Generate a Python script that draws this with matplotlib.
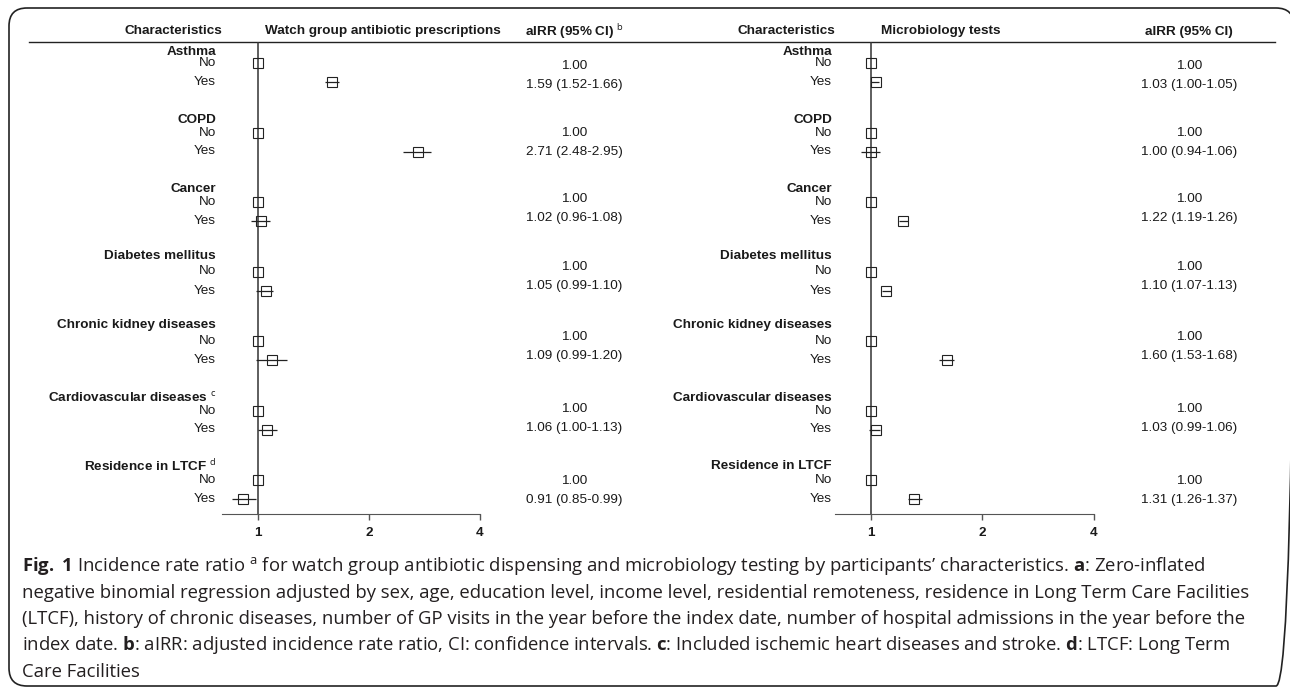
import matplotlib
matplotlib.use("Agg")
import matplotlib.pyplot as plt
from matplotlib.patches import FancyBboxPatch

plt.rcParams["font.family"] = ["Liberation Sans", "DejaVu Sans"]
plt.rcParams["mathtext.fontset"] = "custom"
plt.rcParams["mathtext.rm"] = "Open Sans"
plt.rcParams["mathtext.bf"] = "Open Sans:bold"

# data
groups = ["Asthma", "COPD", "Cancer", "Diabetes mellitus", "Chronic kidney diseases",
          "Cardiovascular diseases", "Residence in LTCF"]
left_notes = ["", "", "", "", "", "c", "d"]
levels = ["No", "Yes"]

watch_est = [1.59, 2.71, 1.02, 1.05, 1.09, 1.06, 0.91]
watch_lo = [1.52, 2.48, 0.96, 0.99, 0.99, 1.00, 0.85]
watch_hi = [1.66, 2.95, 1.08, 1.10, 1.20, 1.13, 0.99]

micro_est = [1.03, 1.00, 1.22, 1.10, 1.60, 1.03, 1.31]
micro_lo = [1.00, 0.94, 1.19, 1.07, 1.53, 0.99, 1.26]
micro_hi = [1.05, 1.06, 1.26, 1.13, 1.68, 1.06, 1.37]

ticks = [1, 2, 4]

caption = [
    r"$\mathbf{Fig.}$ $\mathbf{1}$ Incidence rate ratio $^{\mathrm{a}}$ for watch group antibiotic dispensing and "
    r"microbiology testing by participants’ characteristics. $\mathbf{a}$: Zero-inflated",
    "negative binomial regression adjusted by sex, age, education level, income level, residential "
    "remoteness, residence in Long Term Care Facilities",
    "(LTCF), history of chronic diseases, number of GP visits in the year before the index date, "
    "number of hospital admissions in the year before the",
    r"index date. $\mathbf{b}$: aIRR: adjusted incidence rate ratio, CI: confidence intervals. "
    r"$\mathbf{c}$: Included ischemic heart diseases and stroke. $\mathbf{d}$: LTCF: Long Term",
    "Care Facilities",
]

W, H = 1290, 687
TXT = "#1a1a1a"
FS = 9.7
TOP, BOT = 42, 514

# layout in pixel units (y from top)
no_y = [63 + 69.5 * i for i in range(len(groups))]
yes_y = [y + 19 for y in no_y]
title_y = [52, 120, 189, 256, 325, 398, 466]
val_shift = [3, 1, -3, -4, -4, -1, 1]

fig = plt.figure(figsize=(W / 100, H / 100), dpi=100)
bg = fig.add_axes([0, 0, 1, 1])
bg.set_xlim(0, W)
bg.set_ylim(H, 0)
bg.axis("off")

bg.add_patch(FancyBboxPatch((9, 8), 1285, 678, boxstyle="round,pad=0,rounding_size=18",
                            fill=False, ec="#222222", lw=1.2))
bg.plot([29, 1275], [TOP, TOP], color="#222222", lw=1.0)


def panel(x0, x1, x_label, x_val, x_head, head_title, head_val, est, lo, hi, notes):
    ax = fig.add_axes([x0 / W, (H - BOT) / H, (x1 - x0) / W, (BOT - TOP) / H])
    ax.patch.set_alpha(0)
    ax.set_xscale("log", base=2)
    ax.set_xlim(0.8, 4)
    ax.set_ylim(BOT, TOP)
    ax.set_yticks([])
    ax.set_xticks(ticks)
    ax.set_xticklabels([str(t) for t in ticks], fontweight="bold", fontsize=FS, color=TXT)
    ax.minorticks_off()
    ax.tick_params(axis="x", length=4, width=1, color="#555555", pad=5)
    for s in ["left", "top", "right"]:
        ax.spines[s].set_visible(False)
    ax.spines["bottom"].set_color("#555555")
    ax.axvline(1, color="#333333", lw=1.1, zorder=1)

    ax.plot([1] * len(no_y), no_y, "s", ms=6.5, mfc="none", mec="#222222", mew=0.8, zorder=3)
    xerr = [[e - l for e, l in zip(est, lo)], [h - e for e, h in zip(est, hi)]]
    ax.errorbar(est, yes_y, xerr=xerr, fmt="s", ms=6.5, mfc="none", mec="#222222", mew=0.8,
                ecolor="#222222", elinewidth=0.9, capsize=0, zorder=3)

    bg.text(x_head, 31, "Characteristics", ha="right", va="center", fontweight="bold",
            fontsize=FS, color=TXT)
    bg.text(x_label + 49, 31, head_title, ha="left", va="center", fontweight="bold",
            fontsize=FS, color=TXT)
    bg.text(x_val, 32, head_val, ha="center", va="center", fontweight="bold",
            fontsize=FS, color=TXT)

    for i, g in enumerate(groups):
        name = g if not notes[i] else g + r" $^{\mathrm{%s}}$" % notes[i]
        bg.text(x_label, title_y[i], name, ha="right", va="center", fontweight="bold",
                fontsize=FS, color=TXT)
        bg.text(x_label, no_y[i], levels[0], ha="right", va="center", fontsize=FS, color=TXT)
        bg.text(x_label, yes_y[i], levels[1], ha="right", va="center", fontsize=FS, color=TXT)
        bg.text(x_val, no_y[i] + val_shift[i], "1.00", ha="center", va="center",
                fontsize=FS, color=TXT)
        bg.text(x_val, yes_y[i] + val_shift[i], f"{est[i]:.2f} ({lo[i]:.2f}-{hi[i]:.2f})",
                ha="center", va="center", fontsize=FS, color=TXT)
    return ax


panel(222, 480, 216, 574, 222, "Watch group antibiotic prescriptions",
      r"aIRR (95% CI) $^{\mathrm{b}}$", watch_est, watch_lo, watch_hi, left_notes)
panel(835, 1094, 832, 1189, 835, "Microbiology tests", "aIRR (95% CI)",
      micro_est, micro_lo, micro_hi, [""] * len(groups))

for k, line in enumerate(caption):
    bg.text(22, 566 + 26.5 * k, line, ha="left", va="center", fontsize=13.3,
            family="Open Sans", color="#231f20")

fig.savefig("out.png", dpi=100)
